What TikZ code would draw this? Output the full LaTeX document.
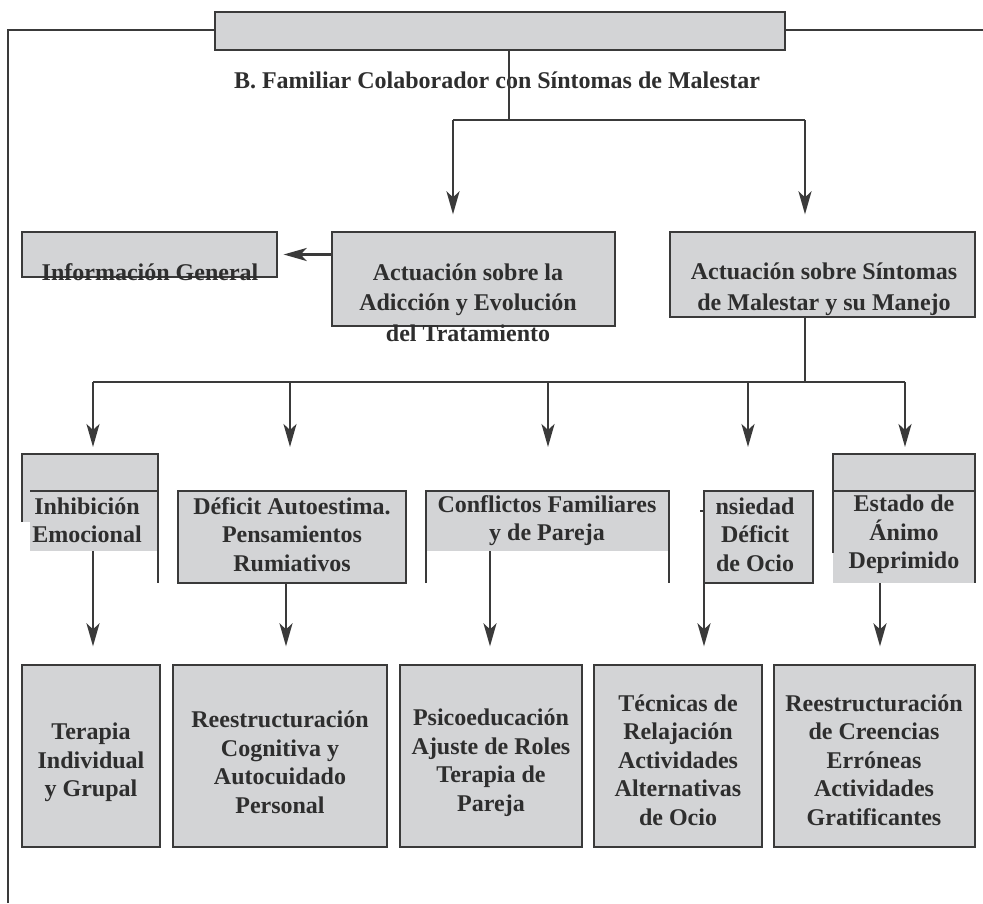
\documentclass[tikz,border=0pt]{standalone}
\usepackage{fontspec}
\setmainfont{Liberation Serif}
\usetikzlibrary{arrows.meta,calc}
\definecolor{boxgray}{HTML}{D3D4D6}
\definecolor{ink}{HTML}{3A3A3A}
\definecolor{txt}{HTML}{2E2E2E}

\begin{document}
\begin{tikzpicture}[x=1pt,y=-1pt,
  box/.style={draw=ink, fill=boxgray, line width=1.3pt, inner sep=0pt},
  lbl/.style={text=txt, font=\bfseries\fontsize{24}{28.5}\selectfont, align=center, inner sep=0pt},
  lblwide/.style={lbl, font=\bfseries\fontsize{24}{30.5}\selectfont},
  thin/.style={draw=ink, line width=1.3pt},
  conn/.style={draw=ink, line width=2.6pt},
  arr/.style={conn, -{Stealth[length=23pt,width=13pt,inset=6pt]}},
]
\useasboundingbox (0,0) rectangle (983,903);

% outer frame lines
\coordinate (fl) at (8,30);
\coordinate (fb) at (8,903);
\coordinate (fr) at (983,30);

% header box
\node[box, minimum width=570pt, minimum height=38pt] (top) at (500,31) {};
\draw[thin] (fb) -- (fl) -- (fl -| top.west);
\draw[thin] (top.east |- fr) -- (fr);
\node[lbl] (title) at (497,80) {B. Familiar Colaborador con Síntomas de Malestar};

% first level
\node[box, minimum width=255pt, minimum height=45pt] (info) at (149.5,254.5) {};
\node[box, minimum width=283pt, minimum height=94pt] (add) at (473.5,279) {};
\node[box, minimum width=305pt, minimum height=85pt] (sint) at (822.5,274.5) {};
\node[lbl] (infot) at (150,272.5) {Información General};
\node[lblwide] (addt) at (468,302.5) {Actuación sobre la\\Adicción y Evolución\\del Tratamiento};
\node[lblwide] (sintt) at (824,289) {Actuación sobre Síntomas\\de Malestar y su Manejo};

\coordinate (jt) at (509,120);
\coordinate (jl) at (453,120);
\coordinate (jr) at (805,120);
\draw[thin] (top.south -| jt) -- (jt);
\draw[conn] (jl) -- (jr);
\draw[arr] (jl) -- ($(jl |- add.north)+(0,-17)$);
\draw[arr] (jr) -- ($(jr |- sint.north)+(0,-17)$);
\draw[arr] (add.west |- info.east) -- ($(info.east)+(6,0)$);

% branching bar
\coordinate (hm) at (805,382);
\coordinate (h1) at (93,382);
\coordinate (h2) at (290,382);
\coordinate (h3) at (548,382);
\coordinate (h4) at (748,382);
\coordinate (h5) at (905,382);
\draw[conn] (sint.south -| hm) -- (hm);
\draw[conn] (h1) -- (h5);
\foreach \h in {h1,h2,h3,h4,h5} \draw[arr] (\h) -- ($(\h)+(0,65)$);

% second level: Inhibición
\fill[boxgray] (22,454) rectangle (158,522);
\fill[boxgray] (30,491) rectangle (158,551);
\draw[thin] (22,522) -- (22,454) -- (158,454) -- (158,583);
\draw[thin] (30,491) -- (158,491);
\node[lbl] (inht) at (87,520.5) {Inhibición\\Emocional};

% Déficit Autoestima
\node[box, minimum width=228pt, minimum height=92pt] (def) at (292,537) {};
\node[lbl] (deft) at (292,534.5) {Déficit Autoestima.\\Pensamientos\\Rumiativos};

% Conflictos
\fill[boxgray] (426,491) rectangle (669,551);
\draw[thin] (426,583) -- (426,491) -- (669,491) -- (669,583);
\node[lbl] (cont) at (547,520.5) {Conflictos Familiares\\y de Pareja};

% Ansiedad
\node[box, minimum width=109pt, minimum height=92pt] (ans) at (758.5,537) {};
\node[lbl] (anst) at (755,534.5) {nsiedad\\Déficit\\de Ocio};
\draw[thin] (700,511) -- (705,511);

% Estado de ánimo
\fill[boxgray] (833,454) rectangle (975,583);
\draw[thin] (833,553) -- (833,454) -- (975,454) -- (975,583);
\draw[thin] (833,491) -- (975,491);
\node[lbl] (estt) at (904,534.5) {Estado de\\Ánimo\\Deprimido};

% third level
\node[box, minimum width=138pt, minimum height=182pt] (r1) at (91,756) {};
\node[box, minimum width=214pt, minimum height=182pt] (r2) at (280,756) {};
\node[box, minimum width=182pt, minimum height=182pt] (r3) at (491,756) {};
\node[box, minimum width=168pt, minimum height=182pt] (r4) at (678,756) {};
\node[box, minimum width=201pt, minimum height=182pt] (r5) at (874.5,756) {};
\node[lbl] (r1t) at (91,762.5) {Terapia\\Individual\\y Grupal};
\node[lbl] (r2t) at (280,762.5) {Reestructuración\\Cognitiva y\\Autocuidado\\Personal};
\node[lbl] (r3t) at (491,762.5) {Psicoeducación\\Ajuste de Roles\\Terapia de\\Pareja};
\node[lbl] (r4t) at (678,760) {Técnicas de\\Relajación\\Actividades\\Alternativas\\de Ocio};
\node[lbl] (r5t) at (874,760) {Reestructuración\\de Creencias\\Erróneas\\Actividades\\Gratificantes};

% connectors to the third level
\coordinate (s1) at (93,551);
\coordinate (s2) at (286,583);
\coordinate (s3) at (490,551);
\coordinate (s4) at (704,548);
\coordinate (s5) at (880,583);
\draw[arr] (s1) -- ($(r1.north -| s1)+(0,-18)$);
\draw[arr] (s2) -- ($(r2.north -| s2)+(0,-18)$);
\draw[arr] (s3) -- ($(r3.north -| s3)+(0,-18)$);
\draw[arr] (s4) -- ($(r4.north -| s4)+(0,-18)$);
\draw[arr] (s5) -- ($(r5.north -| s5)+(0,-18)$);
\end{tikzpicture}
\end{document}
